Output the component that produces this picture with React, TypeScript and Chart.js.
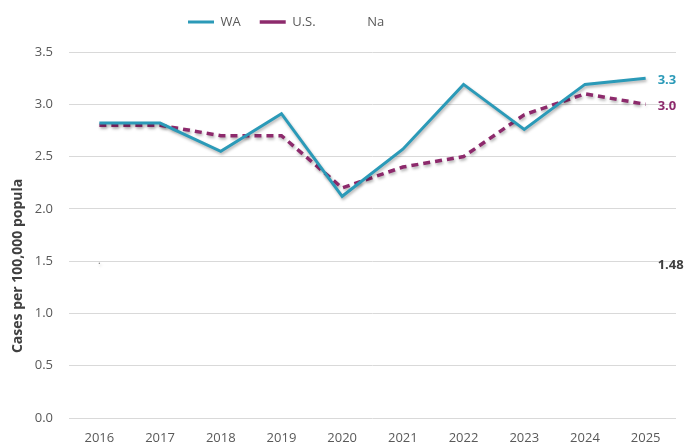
import React, { useEffect, useRef } from "react";
import { Chart, registerables } from "chart.js";

Chart.register(...registerables);

const years = ["2016", "2017", "2018", "2019", "2020", "2021", "2022", "2023", "2024", "2025"];
const waValues = [2.82, 2.82, 2.55, 2.91, 2.12, 2.57, 3.19, 2.76, 3.19, 3.25];
const usValues = [2.8, 2.8, 2.7, 2.7, 2.2, 2.4, 2.5, 2.9, 3.1, 3.0];
const naValues: (number | null)[] = [1.48, null, null, null, null, null, null, null, null, 1.48];
const seriesNames = ["WA", "U.S.", "Na"];
const labelDecimals = [1, 1, 2];
const yAxisTitle = "Cases per 100,000 popula";

const WA_COLOR = "#2b9ab8";
const US_COLOR = "#8d2a6c";
const NA_COLOR = "#7f7f7f";
const LABEL_COLORS = [WA_COLOR, US_COLOR, "#404040"];
const FONT = "'Open Sans', 'Liberation Sans', sans-serif";
const LEGEND_PAD = 19;

const shadowPlugin = {
  id: "lineShadow",
  beforeDatasetDraw(chart: any) {
    const ctx = chart.ctx;
    ctx.save();
    ctx.shadowColor = "rgba(0,0,0,0.3)";
    ctx.shadowBlur = 3;
    ctx.shadowOffsetX = 1;
    ctx.shadowOffsetY = 2;
  },
  afterDatasetDraw(chart: any) {
    chart.ctx.restore();
  },
};

const endLabelPlugin = {
  id: "endLabels",
  afterDatasetsDraw(chart: any) {
    const ctx = chart.ctx;
    chart.data.datasets.forEach((ds: any, i: number) => {
      const meta = chart.getDatasetMeta(i);
      let idx = -1;
      ds.data.forEach((v: any, k: number) => {
        if (v !== null && v !== undefined) idx = k;
      });
      if (idx < 0) return;
      const pt = meta.data[idx];
      ctx.save();
      ctx.font = `bold 13px ${FONT}`;
      ctx.fillStyle = LABEL_COLORS[i];
      ctx.textAlign = "left";
      ctx.textBaseline = "middle";
      ctx.fillText(Number(ds.data[idx]).toFixed(labelDecimals[i]), pt.x + 12, pt.y + 2);
      ctx.restore();
    });
  },
};

const legendPlacePlugin = {
  id: "legendPlace",
  afterLayout(chart: any) {
    const lg = chart.legend;
    if (!lg) return;
    const dx = 188 - LEGEND_PAD - lg.left;
    lg.left += dx;
    lg.right += dx + 200;
    const dy = 22 - 6.5 - LEGEND_PAD - lg.top;
    lg.top += dy;
    lg.bottom += dy;
  },
};

export default function App() {
  const ref = useRef<HTMLCanvasElement | null>(null);
  useEffect(() => {
    if (!ref.current) return;
    const chart = new Chart(ref.current, {
      type: "line",
      data: {
        labels: years,
        datasets: [
          {
            label: seriesNames[0],
            data: waValues,
            borderColor: WA_COLOR,
            backgroundColor: WA_COLOR,
            borderWidth: 3,
            pointRadius: 0,
            tension: 0,
          },
          {
            label: seriesNames[1],
            data: usValues,
            borderColor: US_COLOR,
            backgroundColor: US_COLOR,
            borderWidth: 3.5,
            borderDash: [7, 5],
            pointRadius: 0,
            tension: 0,
          },
          {
            label: seriesNames[2],
            data: naValues,
            borderColor: "rgba(0,0,0,0)",
            backgroundColor: NA_COLOR,
            borderWidth: 1,
            showLine: false,
            pointRadius: (c: any) => (c.dataIndex === 0 ? 0.7 : 0),
            pointBorderWidth: 0,
          },
        ],
      },
      options: {
        animation: false,
        responsive: false,
        maintainAspectRatio: false,
        layout: { padding: { top: 10, right: 11, bottom: 0, left: 0 } },
        plugins: {
          legend: {
            display: true,
            position: "top",
            align: "start",
            labels: {
              usePointStyle: true,
              pointStyle: "line",
              pointStyleWidth: 26,
              padding: LEGEND_PAD,
              color: "#595959",
              font: { family: FONT, size: 13 },
            },
          },
          tooltip: { enabled: false },
          title: { display: false },
        },
        scales: {
          x: {
            offset: true,
            grid: { display: false, drawTicks: false },
            border: { display: false },
            ticks: {
              color: "#595959",
              font: { family: FONT, size: 13 },
              padding: 12,
              maxRotation: 0,
              autoSkip: false,
            },
            afterFit: (scale: any) => {
              scale.height = 27;
            },
          },
          y: {
            min: 0,
            max: 3.5,
            grid: { color: "#d9d9d9", lineWidth: 1, drawTicks: false },
            border: { display: false },
            ticks: {
              stepSize: 0.5,
              color: "#595959",
              font: { family: FONT, size: 13 },
              padding: 16,
              callback: (v: any) => Number(v).toFixed(1),
            },
            title: {
              display: true,
              text: yAxisTitle + "\u00A0".repeat(17),
              color: "#404040",
              font: { family: FONT, size: 14, weight: "bold" },
              padding: { top: 10, bottom: 4 },
            },
            afterFit: (scale: any) => {
              scale.width = 69;
            },
          },
        },
      },
      plugins: [shadowPlugin, endLabelPlugin, legendPlacePlugin],
    } as any);
    return () => chart.destroy();
  }, []);
  return (
    <div style={{ position: "absolute", left: 0, top: 0, width: 687, height: 445, background: "#fff" }}>
      <canvas ref={ref} width={687} height={445} style={{ display: "block", width: 687, height: 445 }} />
    </div>
  );
}
